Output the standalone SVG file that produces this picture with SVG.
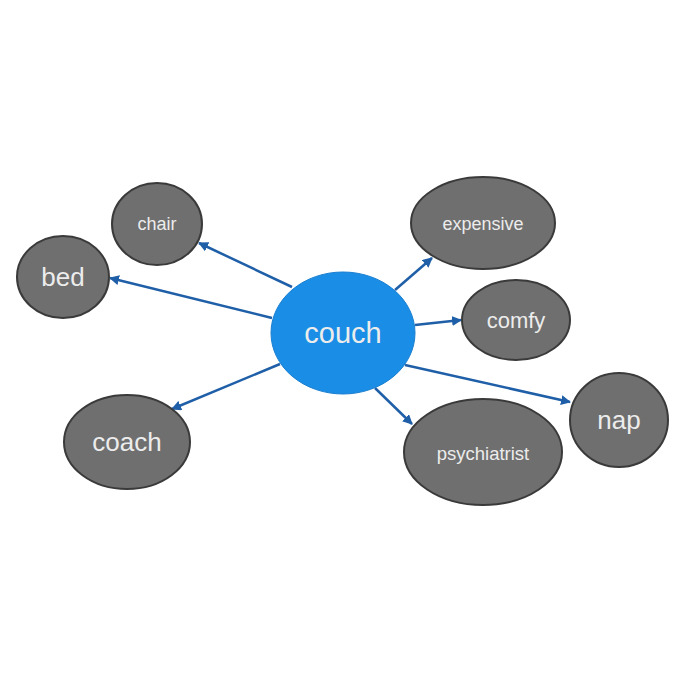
<svg xmlns="http://www.w3.org/2000/svg" width="677" height="677" viewBox="0 0 677 677">
<defs>
<marker id="ah" viewBox="0 0 10 10" refX="9" refY="5" markerWidth="4" markerHeight="4" orient="auto" markerUnits="strokeWidth">
<path d="M0,0 L10,5 L0,10 z" fill="#1f5fa8"/>
</marker>
<style>
.n{fill:#6f6f6f;stroke:#3a3a3a;stroke-width:2}
.c{fill:#1a8de6;stroke:#1a7fd0;stroke-width:1}
.t{font-family:"Liberation Sans",Arial,sans-serif;fill:#ececec;text-anchor:middle;dominant-baseline:central}
.e{stroke:#1f5fa8;stroke-width:2.5;fill:none;marker-end:url(#ah)}
</style>
</defs>
<rect width="677" height="677" fill="#ffffff"/>
<g id="connectors">
<line class="e" x1="292" y1="287" x2="199" y2="243"/>
<line class="e" x1="272" y1="318" x2="110" y2="278"/>
<line class="e" x1="280" y1="364" x2="172" y2="409"/>
<line class="e" x1="395" y1="290" x2="432" y2="258"/>
<line class="e" x1="415" y1="325" x2="461" y2="320"/>
<line class="e" x1="405" y1="365" x2="570" y2="402"/>
<line class="e" x1="375" y1="388" x2="412" y2="424"/>
</g>
<g id="chair"><ellipse class="n" cx="157" cy="224" rx="45" ry="41"/><text class="t" x="157" y="224" font-size="18">chair</text></g>
<g id="bed"><ellipse class="n" cx="63" cy="277" rx="46" ry="41"/><text class="t" x="63" y="277" font-size="26">bed</text></g>
<g id="coach"><ellipse class="n" cx="127" cy="442" rx="63" ry="47"/><text class="t" x="127" y="442" font-size="26">coach</text></g>
<g id="expensive"><ellipse class="n" cx="483" cy="223" rx="72" ry="46"/><text class="t" x="483" y="224" font-size="18">expensive</text></g>
<g id="comfy"><ellipse class="n" cx="516" cy="320" rx="54" ry="40"/><text class="t" x="516" y="320" font-size="22">comfy</text></g>
<g id="nap"><ellipse class="n" cx="619" cy="420" rx="49" ry="47"/><text class="t" x="619" y="420" font-size="26">nap</text></g>
<g id="psychiatrist"><ellipse class="n" cx="483" cy="452" rx="79" ry="53"/><text class="t" x="483" y="453" font-size="18.5">psychiatrist</text></g>
<g id="couch"><ellipse class="c" cx="343" cy="333" rx="72" ry="61"/><text class="t" x="343" y="333" font-size="29">couch</text></g>
</svg>
